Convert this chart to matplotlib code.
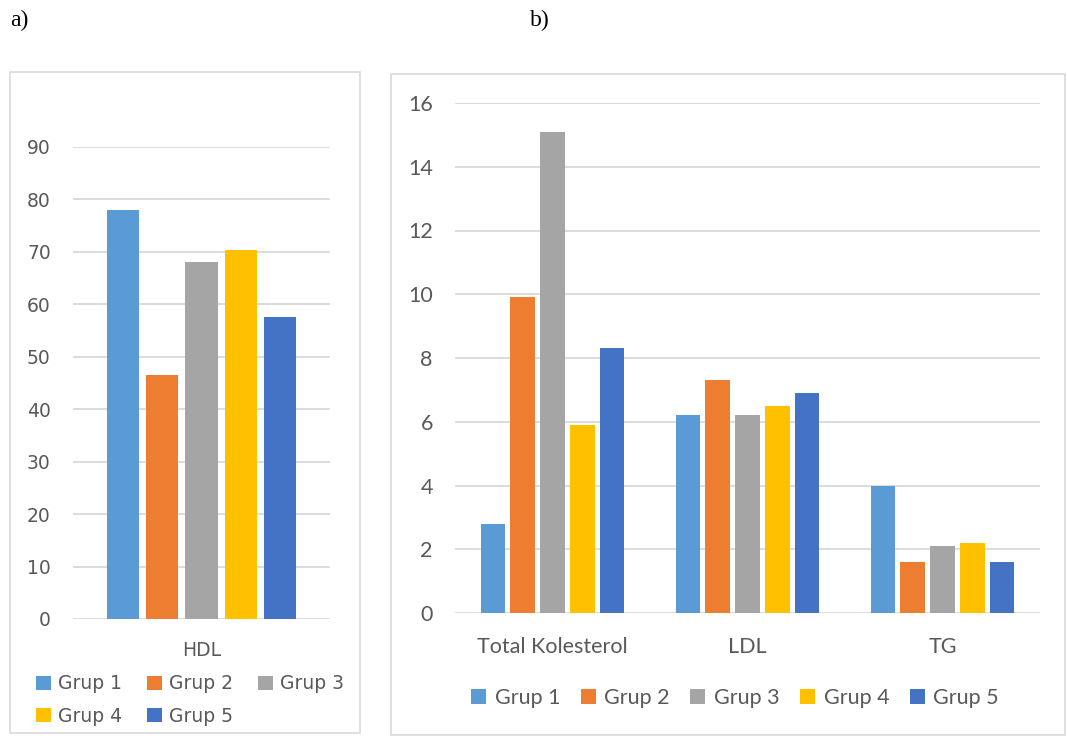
import matplotlib.pyplot as plt
import matplotlib.patches as mpatches
import numpy as np

# Data
groups = ["Grup 1", "Grup 2", "Grup 3", "Grup 4", "Grup 5"]
colors = ["#5B9BD5", "#ED7D31", "#A5A5A5", "#FFC000", "#4472C4"]

hdl_labels = ["HDL"]
hdl_values = [78.0, 46.6, 68.0, 70.3, 57.6]

lipid_labels = ["Total Kolesterol", "LDL", "TG"]
lipid_values = [
    [2.8, 6.2, 4.0],   # Grup 1
    [9.9, 7.3, 1.6],   # Grup 2
    [15.1, 6.2, 2.1],  # Grup 3
    [5.9, 6.5, 2.2],   # Grup 4
    [8.3, 6.9, 1.6],   # Grup 5
]

W, H = 1067, 740
TXT = "#595959"
GRID = "#D9D9D9"

fig = plt.figure(figsize=(W / 100, H / 100), dpi=100)


def px_axes(x0, y0, x1, y1):
    # pixel box (top-left origin) -> figure axes
    return fig.add_axes([x0 / W, 1 - y1 / H, (x1 - x0) / W, (y1 - y0) / H])


def style(ax, pad):
    for s in ax.spines.values():
        s.set_visible(False)
    ax.yaxis.grid(True, color=GRID, lw=1.3)
    ax.set_axisbelow(True)
    ax.tick_params(length=0, colors=TXT, pad=pad)


# Panel boxes
fig.patches.append(mpatches.Rectangle((10 / W, 1 - 733 / H), 350 / W, 661 / H,
                                      transform=fig.transFigure, fill=False,
                                      ec=GRID, lw=1.2))
fig.patches.append(mpatches.Rectangle((391 / W, 1 - 735 / H), 674 / W, 661 / H,
                                      transform=fig.transFigure, fill=False,
                                      ec=GRID, lw=1.2))

fig.text(10 / W, 1 - 20 / H, "a)", family="Liberation Serif", fontsize=17,
         va="center", ha="left")
fig.text(530 / W, 1 - 20 / H, "b)", family="Liberation Serif", fontsize=17,
         va="center", ha="left")

width = 0.125
step = 0.153

# a) HDL
fa = {"family": "DejaVu Sans", "size": 13.5}
ax1 = px_axes(73, 147, 330, 619)
bars_a = []
for i, g in enumerate(groups):
    b = ax1.bar(0 + (i - 2) * step, hdl_values[i], width, color=colors[i], label=g)
    bars_a.append(b)
ax1.set_xlim(-0.5, 0.5)
ax1.set_ylim(0, 90)
yt = np.arange(0, 91, 10)
ax1.set_yticks(yt, [str(v) for v in yt], fontfamily=fa["family"], fontsize=fa["size"])
ax1.set_xticks([0], hdl_labels, fontfamily=fa["family"], fontsize=fa["size"])
style(ax1, 16)
ax1.tick_params(axis="x", pad=16)
# row-wise order for a 3-column, 2-row legend
order = [0, 3, 1, 4, 2]
ax1.legend(handles=[bars_a[k] for k in order], loc="center",
           bbox_to_anchor=(190 / W, 1 - 700 / H),
           bbox_transform=fig.transFigure, ncol=3, frameon=False,
           prop=fa, labelcolor=TXT,
           handlelength=0.8, handleheight=0.8, handletextpad=0.4,
           columnspacing=1.3, labelspacing=0.7)

# b) Total Kolesterol, LDL, TG
fb = {"family": "Lato", "size": 15.5}
ax2 = px_axes(455, 103, 1040, 613)
x = np.arange(len(lipid_labels))
bars_b = []
for i, g in enumerate(groups):
    b = ax2.bar(x + (i - 2) * step, lipid_values[i], width, color=colors[i], label=g)
    bars_b.append(b)
ax2.set_xlim(-0.5, len(lipid_labels) - 0.5)
ax2.set_ylim(0, 16)
yt2 = np.arange(0, 17, 2)
ax2.set_yticks(yt2, [str(v) for v in yt2], fontfamily=fb["family"], fontsize=fb["size"])
ax2.set_xticks(x, lipid_labels, fontfamily=fb["family"], fontsize=fb["size"])
style(ax2, 16)
ax2.tick_params(axis="x", pad=17)
ax2.legend(handles=bars_b, loc="center", bbox_to_anchor=(735 / W, 1 - 698 / H),
           bbox_transform=fig.transFigure, ncol=5, frameon=False,
           prop=fb, labelcolor=TXT,
           handlelength=0.7, handleheight=0.7, handletextpad=0.4,
           columnspacing=0.95)

fig.savefig("out.png", dpi=100)
